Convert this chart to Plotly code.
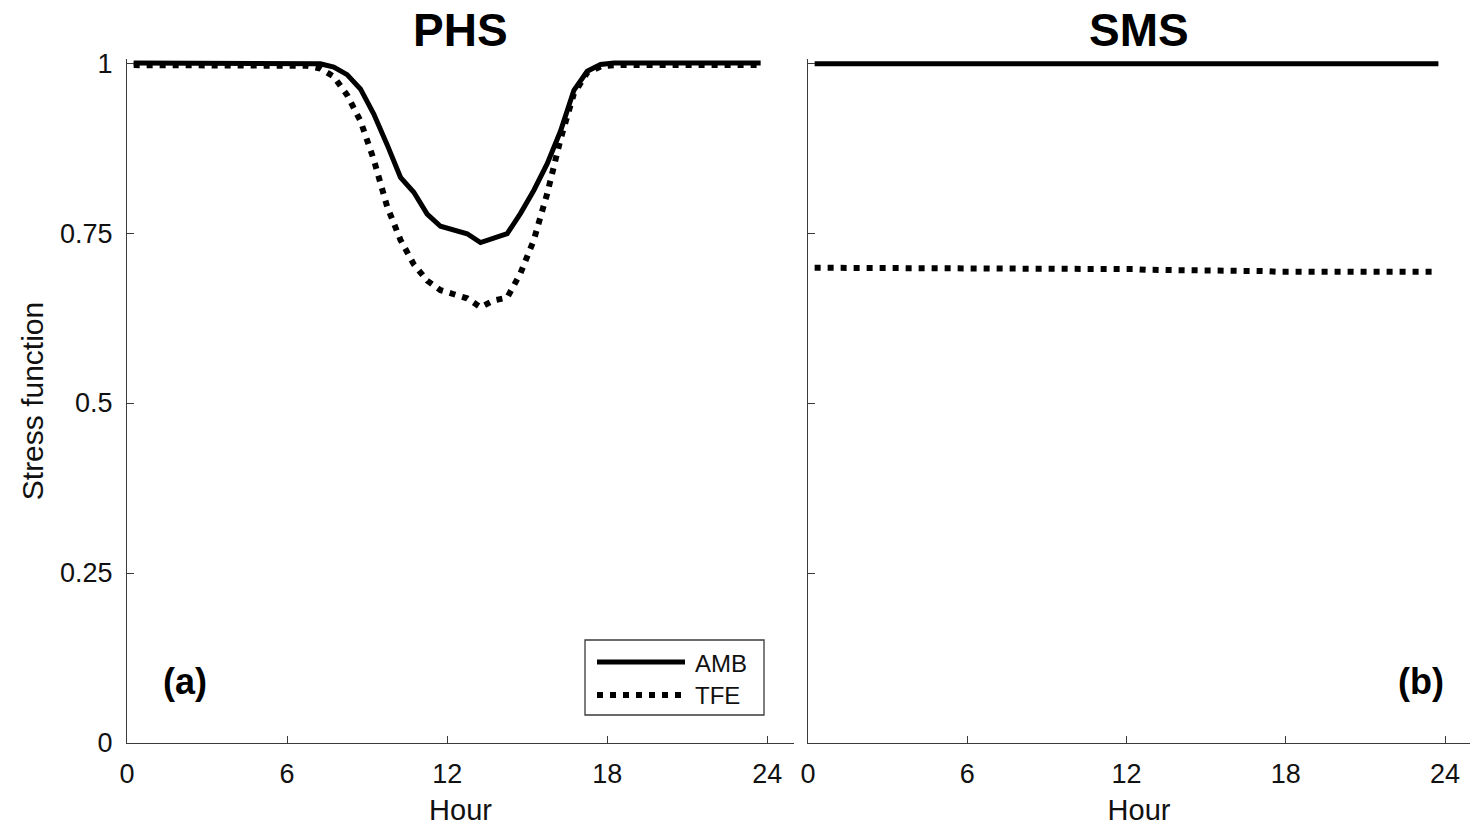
import plotly.graph_objects as go

W, H = 1470, 828

hours = [0.25, 0.75, 1.25, 1.75, 2.25, 2.75, 3.25, 3.75, 4.25, 4.75, 5.25, 5.75,
         6.25, 6.75, 7.25, 7.75, 8.25, 8.75, 9.25, 9.75, 10.25, 10.75, 11.25, 11.75,
         12.25, 12.75, 13.25, 13.75, 14.25, 14.75, 15.25, 15.75, 16.25, 16.75, 17.25, 17.75,
         18.25, 18.75, 19.25, 19.75, 20.25, 20.75, 21.25, 21.75, 22.25, 22.75, 23.25, 23.75]

phs_amb = [1.0, 1.0, 1.0, 1.0, 1.0, 1.0, 1.0, 1.0, 1.0, 1.0, 1.0, 1.0,
           1.0, 1.0, 0.999, 0.994, 0.983, 0.962, 0.925, 0.880, 0.832, 0.810, 0.778, 0.760,
           0.754, 0.749, 0.736, 0.743, 0.749, 0.779, 0.813, 0.852, 0.900, 0.960, 0.988, 0.998,
           1.0, 1.0, 1.0, 1.0, 1.0, 1.0, 1.0, 1.0, 1.0, 1.0, 1.0, 1.0]

phs_tfe = [0.997, 0.997, 0.997, 0.997, 0.997, 0.997, 0.997, 0.997, 0.997, 0.997, 0.997, 0.997,
           0.997, 0.996, 0.992, 0.980, 0.953, 0.915, 0.858, 0.789, 0.740, 0.704, 0.680, 0.666,
           0.660, 0.654, 0.641, 0.651, 0.655, 0.691, 0.740, 0.808, 0.888, 0.955, 0.986, 0.995,
           0.997, 0.997, 0.997, 0.997, 0.997, 0.997, 0.997, 0.997, 0.997, 0.997, 0.997, 0.997]

sms_amb = [0.999] * 48

sms_tfe = [0.699, 0.699, 0.699, 0.699, 0.699, 0.699, 0.699, 0.699, 0.699, 0.699,
           0.698, 0.698, 0.698, 0.698, 0.698, 0.698, 0.698, 0.698, 0.698, 0.698,
           0.697, 0.697, 0.697, 0.697, 0.697,
           0.696, 0.696, 0.696, 0.696,
           0.695, 0.695, 0.695, 0.695,
           0.694, 0.694, 0.693, 0.693, 0.693, 0.693, 0.693, 0.693, 0.693, 0.693, 0.693, 0.693, 0.693, 0.693, 0.693]

x_ticks = [0, 6, 12, 18, 24]
y_ticks = [0, 0.25, 0.5, 0.75, 1]
y_ticktext = ["0", "0.25", "0.5", "0.75", "1"]

FONT = "Liberation Sans, Arial, Helvetica, sans-serif"
AX = "#3a3a3a"
TXT = "#111111"


def px(x):
    return x / W


def py(y):
    return 1 - y / H


solid = dict(color="black", width=5)
dotted = dict(color="black", width=6, dash="6px,7px")

fig = go.Figure()
fig.add_trace(go.Scatter(x=hours, y=phs_amb, mode="lines", line=solid, name="AMB",
                         xaxis="x", yaxis="y", showlegend=False))
fig.add_trace(go.Scatter(x=hours, y=phs_tfe, mode="lines", line=dotted, name="TFE",
                         xaxis="x", yaxis="y", showlegend=False))
fig.add_trace(go.Scatter(x=hours, y=sms_amb, mode="lines", line=solid, name="AMB",
                         xaxis="x2", yaxis="y2", showlegend=False))
fig.add_trace(go.Scatter(x=hours, y=sms_tfe, mode="lines", line=dotted, name="TFE",
                         xaxis="x2", yaxis="y2", showlegend=False))

ydom = [py(743), py(59)]
common_x = dict(showline=True, linecolor=AX, linewidth=1.3, ticks="inside", ticklen=7,
                tickcolor=AX, tickwidth=1.3, showgrid=False, zeroline=False,
                tickvals=x_ticks, ticktext=[str(v) for v in x_ticks],
                tickfont=dict(family=FONT, size=27, color=TXT), ticklabelstandoff=6,
                title=dict(text="Hour", font=dict(family=FONT, size=29, color=TXT), standoff=12),
                automargin=False, mirror=False)
common_y = dict(showline=True, linecolor=AX, linewidth=1.3, ticks="inside", ticklen=7,
                tickcolor=AX, tickwidth=1.3, showgrid=False, zeroline=False,
                tickvals=y_ticks, ticktext=y_ticktext, range=[0, 1.006],
                tickfont=dict(family=FONT, size=27, color=TXT), ticklabelstandoff=8,
                automargin=False, domain=ydom)

fig.update_layout(
    width=W, height=H,
    margin=dict(l=0, r=0, t=0, b=0),
    paper_bgcolor="white", plot_bgcolor="white",
    font=dict(family=FONT, color=TXT),
    xaxis=dict(common_x, domain=[px(127), px(794)], range=[0, 25], anchor="y"),
    yaxis=dict(common_y, anchor="x",
               title=dict(text="Stress function", font=dict(family=FONT, size=30, color=TXT),
                          standoff=7)),
    xaxis2=dict(common_x, domain=[px(808), 1.0], range=[0, 24.94], anchor="y2"),
    yaxis2=dict(common_y, anchor="x2", showticklabels=False),
)

annotations = [
    dict(text="<b>PHS</b>", x=(px(127) + px(794)) / 2, y=py(30), xref="paper", yref="paper",
         showarrow=False, font=dict(family=FONT, size=46, color="black"), xanchor="center", yanchor="middle"),
    dict(text="<b>SMS</b>", x=(px(808) + 1.0) / 2, y=py(30), xref="paper", yref="paper",
         showarrow=False, font=dict(family=FONT, size=46, color="black"), xanchor="center", yanchor="middle"),
    dict(text="<b>(a)</b>", x=px(185), y=py(681), xref="paper", yref="paper",
         showarrow=False, font=dict(family=FONT, size=36, color="black"), xanchor="center", yanchor="middle"),
    dict(text="<b>(b)</b>", x=px(1421), y=py(681), xref="paper", yref="paper",
         showarrow=False, font=dict(family=FONT, size=36, color="black"), xanchor="center", yanchor="middle"),
    dict(text="AMB", x=px(693), y=py(663), xref="paper", yref="paper",
         showarrow=False, font=dict(family=FONT, size=24, color=TXT), xanchor="left", yanchor="middle"),
    dict(text="TFE", x=px(693), y=py(695), xref="paper", yref="paper",
         showarrow=False, font=dict(family=FONT, size=24, color=TXT), xanchor="left", yanchor="middle"),
]
fig.update_layout(annotations=annotations)

shapes = [
    dict(type="rect", xref="paper", yref="paper", x0=px(585), x1=px(764), y0=py(715), y1=py(640),
         line=dict(color=AX, width=1.3), fillcolor="rgba(0,0,0,0)"),
    dict(type="line", xref="paper", yref="paper", x0=px(597), x1=px(685), y0=py(662), y1=py(662),
         line=solid),
    dict(type="line", xref="paper", yref="paper", x0=px(597), x1=px(685), y0=py(695), y1=py(695),
         line=dotted),
]
fig.update_layout(shapes=shapes)

fig.write_html("out.html")
